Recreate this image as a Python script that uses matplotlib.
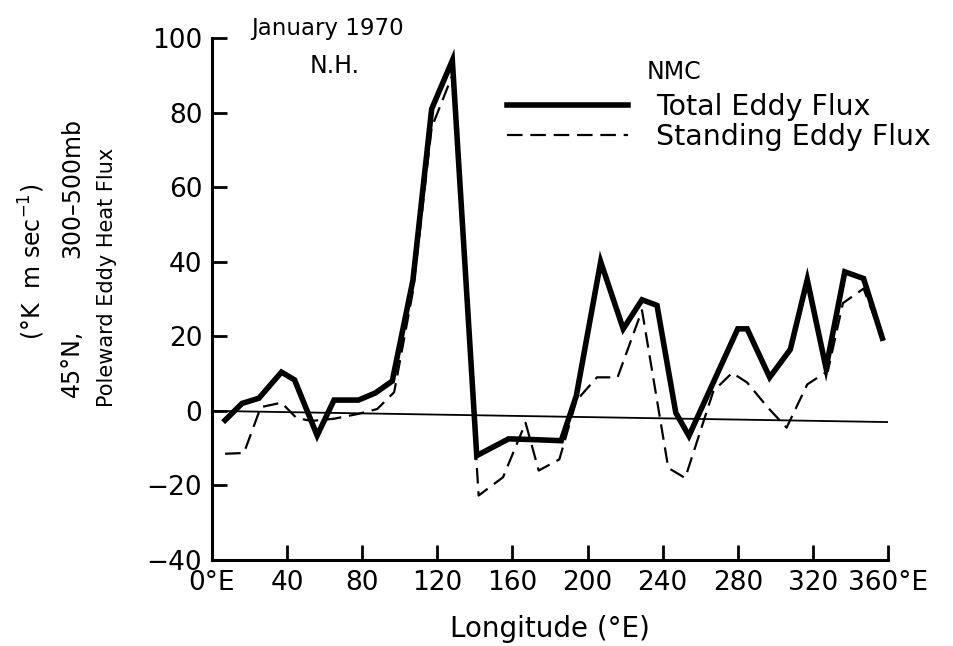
import matplotlib
matplotlib.use('Agg')
import matplotlib.pyplot as plt

# DATA ######
# Total eddy flux (solid)
total_lon = [7, 16, 25, 37, 44, 56, 65, 78, 87, 96, 107, 117, 128, 141, 158, 171,
             186, 194, 207, 219, 229, 237, 247, 254, 280, 285, 297, 308, 317, 327,
             337, 347, 357]
total_flux = [-2.5, 2, 3.4, 10.4, 8.3, -6.6, 2.9, 2.9, 4.8, 8, 35, 81, 94, -12, -7.5,
              -7.7, -8, 4, 40, 22, 29.8, 28.3, -0.5, -6.7, 22, 22, 9, 16.5, 35.2,
              11.5, 37.3, 35.5, 19.5]

# Standing eddy flux (dashed)
standing_lon = [7, 17, 26, 37, 45, 53, 65, 78, 88, 97, 107, 117, 128, 142, 155, 167,
                174, 185, 194, 205, 216, 229, 243, 252, 267, 277, 285, 296, 306, 317,
                328, 336, 347, 357]
standing_flux = [-11.5, -11.3, 1, 2.2, -1.9, -2.7, -2.1, -0.8, 0.5, 5, 32, 76, 90,
                 -22.7, -17.8, -3.2, -16, -13, 2.7, 9, 9, 27, -15.3, -18, 5.3, 10.2,
                 7.6, 0.9, -4.5, 7.1, 10.7, 28.9, 32.8, 19.5]

# reference line (drawn slightly tilted in the scan)
zero_lon = [0, 360]
zero_val = [0, -3]

x_ticks = [0, 40, 80, 120, 160, 200, 240, 280, 320, 360]
x_tick_labels = ['0°E', '40', '80', '120', '160', '200', '240', '280', '320', '360°E']
y_ticks = [-40, -20, 0, 20, 40, 60, 80, 100]

# PLOT ######
plt.rcParams['font.family'] = 'DejaVu Sans'
fig = plt.figure(figsize=(9.54, 6.46), dpi=100)
ax = fig.add_axes([0.2222, 0.1331, 0.7086, 0.8080])

ax.plot(zero_lon, zero_val, color='black', lw=1.3)
ax.plot(total_lon, total_flux, color='black', lw=4, solid_joinstyle='miter',
        label='Total Eddy Flux')
ax.plot(standing_lon, standing_flux, color='black', lw=1.6, dashes=(7, 3.5),
        label='Standing Eddy Flux')

ax.set_xlim(0, 360)
ax.set_ylim(-40, 100)
ax.set_xticks(x_ticks)
ax.set_xticklabels(x_tick_labels)
ax.set_yticks(y_ticks)
ax.tick_params(direction='in', length=11, width=2, labelsize=19, pad=7)
ax.spines['top'].set_visible(False)
ax.spines['right'].set_visible(False)
ax.spines['left'].set_linewidth(2.2)
ax.spines['bottom'].set_linewidth(2.2)

ax.set_xlabel('Longitude (°E)', fontsize=20, labelpad=14)

leg = ax.legend(loc='upper left', bbox_to_anchor=(0.4364, 0.8946), frameon=False,
                fontsize=20.5, handlelength=4.25, handletextpad=1.0,
                labelspacing=0.08, borderpad=0, borderaxespad=0)
ax.text(0.6435, 0.935, 'NMC', transform=ax.transAxes, fontsize=17,
        ha='left', va='center')
ax.text(0.1716, 1.019, 'January 1970', transform=ax.transAxes, fontsize=16.5,
        ha='center', va='center')
ax.text(0.182, 0.946, 'N.H.', transform=ax.transAxes, fontsize=17,
        ha='center', va='center')

# stacked y-axis label lines
fig.text(0.0335, 0.594, '(°K  m sec$^{-1}$)', rotation=90, fontsize=17,
         ha='center', va='center')
fig.text(0.0755, 0.709, '300–500mb', rotation=90, fontsize=17,
         ha='center', va='center')
fig.text(0.0755, 0.437, '45°N,', rotation=90, fontsize=17,
         ha='center', va='center')
fig.text(0.112, 0.571, 'Poleward Eddy Heat Flux', rotation=90, fontsize=15,
         ha='center', va='center')

plt.savefig('out.png', dpi=100)
